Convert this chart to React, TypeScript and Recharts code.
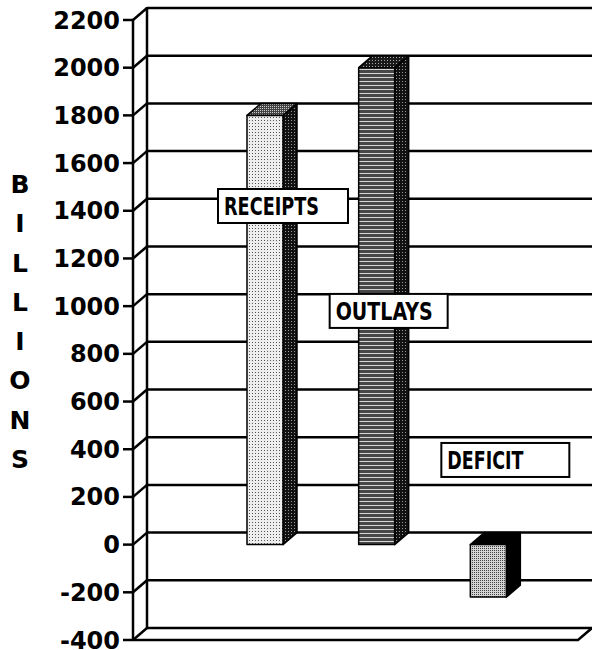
import {
  BarChart,
  Bar,
  XAxis,
  YAxis,
  CartesianGrid,
  LabelList,
} from "recharts";

const categories = ["RECEIPTS", "OUTLAYS", "DEFICIT"];
const amounts = [1800, 2000, -220];
// level (in billions) where each callout box sits
const labelLevels = [1420, 980, 355];
const yTicks = [-400, -200, 0, 200, 400, 600, 800, 1000, 1200, 1400, 1600, 1800, 2000, 2200];
const axisLetters = ["B", "I", "L", "L", "I", "O", "N", "S"];

const data = categories.map((name, i) => ({ name, value: amounts[i] }));

// depth of the fake 3d effect
const DX = 14;
const DY = -12;
const LINE = 2.5;

const faces = [
  { front: "url(#dotsLight)", side: "url(#sideDark)", top: "url(#topMid)" },
  { front: "url(#stripes)", side: "url(#sideDark)", top: "url(#topDark)" },
  { front: "url(#dotsMid)", side: "#000", top: "#000" },
];
const boxWidths = [130, 118, 128];
const textWidths = [95, 97, 76];

function Bar3D(props: any) {
  const { x, y, width, height } = props;
  const i = categories.indexOf(props.payload?.name ?? props.name);
  const f = faces[i] ?? faces[0];
  const top = Math.min(y, y + height);
  const bot = Math.max(y, y + height);
  const l = x;
  const r = x + width;
  return (
    <g stroke="#000" strokeWidth={1.5} strokeLinejoin="round">
      <polygon
        points={`${r},${top} ${r + DX},${top + DY} ${r + DX},${bot + DY} ${r},${bot}`}
        fill={f.side}
      />
      <polygon
        points={`${l},${top} ${l + DX},${top + DY} ${r + DX},${top + DY} ${r},${top}`}
        fill={f.top}
      />
      <rect x={l} y={top} width={width} height={bot - top} fill={f.front} />
    </g>
  );
}

function Callout(props: any) {
  const vb = props.viewBox ?? props;
  const { x, y, width, height } = vb;
  const i = props.index ?? 0;
  const v = amounts[i];
  const top = Math.min(y, y + height);
  const bot = Math.max(y, y + height);
  const ppu = (bot - top) / Math.abs(v);
  const zeroY = v >= 0 ? bot : top;
  const cy = zeroY - labelLevels[i] * ppu;
  const bx = x - 29;
  const bh = 34;
  return (
    <g>
      <rect
        x={bx}
        y={cy - bh / 2}
        width={boxWidths[i]}
        height={bh}
        fill="#fff"
        stroke="#000"
        strokeWidth={2}
      />
      <text
        x={bx + 6}
        y={cy + 1}
        dominantBaseline="central"
        fontFamily="'Liberation Sans Narrow', 'DejaVu Sans Condensed', sans-serif"
        fontWeight={700}
        fontSize={24}
        textLength={textWidths[i]}
        lengthAdjust="spacingAndGlyphs"
        fill="#000"
      >
        {categories[i]}
      </text>
    </g>
  );
}

// grid lines sit on the back wall, joined to the front ticks by a slant
function gridLine(p: any) {
  const { x1, x2, y1 } = p;
  const hasBox = typeof p.y === "number" && typeof p.height === "number";
  const isTop = hasBox && Math.abs(y1 - p.y) < 0.5;
  const isBottom = hasBox && Math.abs(y1 - (p.y + p.height)) < 0.5;
  return (
    <g key={p.key} stroke="#000" strokeWidth={LINE} fill="none">
      <line x1={x1} y1={y1} x2={x1 + DX} y2={y1 + DY} />
      <line x1={x1 + DX} y1={y1 + DY} x2={x2} y2={y1 + DY} />
      {isTop && (
        <line x1={x1 + DX} y1={y1 + DY - 1} x2={x1 + DX} y2={p.y + p.height + DY} />
      )}
      {isBottom && (
        <polyline points={`${x1},${y1} ${x2 - DX},${y1} ${x2},${y1 + DY}`} />
      )}
    </g>
  );
}

function Letters(props: any) {
  const vb = props.viewBox ?? {};
  const cx = (vb.x ?? 0) + 20;
  const mid = (vb.y ?? 0) + (vb.height ?? 0) / 2 - 8;
  const step = 39.3;
  const start = mid - (step * (axisLetters.length - 1)) / 2;
  return (
    <g>
      {axisLetters.map((c, i) => (
        <text
          key={i}
          x={cx}
          y={start + i * step}
          textAnchor="middle"
          dominantBaseline="central"
          fontFamily="'DejaVu Sans', sans-serif"
          fontWeight={700}
          fontSize={25}
          fill="#000"
        >
          {c}
        </text>
      ))}
    </g>
  );
}

export default function App() {
  return (
    <div style={{ position: "absolute", left: 0, top: 0, background: "#fff" }}>
      <BarChart
        width={592}
        height={650}
        data={data}
        margin={{ top: 20, right: 0, bottom: 10, left: 0 }}
      >
        <defs>
          <pattern id="dotsLight" width="3" height="3" patternUnits="userSpaceOnUse">
            <rect width="3" height="3" fill="#eeeeee" />
            <rect width="1" height="1" fill="#555" />
          </pattern>
          <pattern id="dotsMid" width="2" height="2" patternUnits="userSpaceOnUse">
            <rect width="2" height="2" fill="#d4d4d4" />
            <rect width="1" height="1" fill="#444" />
          </pattern>
          <pattern id="sideDark" width="3" height="3" patternUnits="userSpaceOnUse">
            <rect width="3" height="3" fill="#111" />
            <rect width="1" height="1" fill="#999" />
          </pattern>
          <pattern id="topMid" width="2" height="2" patternUnits="userSpaceOnUse">
            <rect width="2" height="2" fill="#444" />
            <rect width="1" height="1" fill="#ccc" />
          </pattern>
          <pattern id="topDark" width="3" height="3" patternUnits="userSpaceOnUse">
            <rect width="3" height="3" fill="#1a1a1a" />
            <rect width="1" height="1" fill="#aaa" />
          </pattern>
          <pattern id="stripes" width="4" height="4" patternUnits="userSpaceOnUse">
            <rect width="4" height="4" fill="#474747" />
            <rect y="1" width="4" height="1" fill="#d6d6d6" />
          </pattern>
        </defs>
        <CartesianGrid vertical={false} horizontal={gridLine} />
        <XAxis dataKey="name" hide padding={{ left: 76, right: 48 }} />
        <YAxis
          domain={[-400, 2200]}
          ticks={yTicks}
          interval={0}
          width={133}
          tickSize={10}
          tickMargin={3}
          axisLine={{ stroke: "#000", strokeWidth: LINE }}
          tickLine={{ stroke: "#000", strokeWidth: LINE }}
          tick={{ fill: "#000", fontSize: 24, fontWeight: 700, fontFamily: "'DejaVu Sans', sans-serif" }}
          label={{ content: Letters }}
        />
        <Bar dataKey="value" barSize={36} shape={Bar3D} isAnimationActive={false}>
          <LabelList dataKey="value" content={Callout} />
        </Bar>
      </BarChart>
    </div>
  );
}
